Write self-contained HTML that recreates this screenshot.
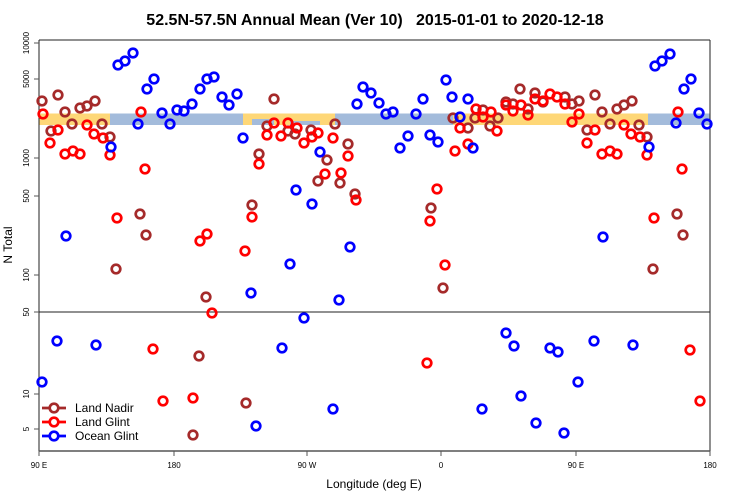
<!DOCTYPE html>
<html><head><meta charset="utf-8"><style>
html,body{margin:0;padding:0;background:#fff}
svg{display:block;font-family:"Liberation Sans",sans-serif}
</style></head><body>
<svg width="750" height="500" viewBox="0 0 750 500" xmlns="http://www.w3.org/2000/svg">
<rect width="750" height="500" fill="#fff"/>
<text x="375" y="25" text-anchor="middle" font-size="16" font-weight="bold" style="white-space:pre">52.5N-57.5N Annual Mean (Ver 10)   2015-01-01 to 2020-12-18</text>
<rect x="39" y="113.5" width="71" height="11.5" fill="#fed777"/>
<rect x="110" y="113.5" width="133" height="11.5" fill="#a3bbdb"/>
<rect x="243" y="113.5" width="92" height="11.5" fill="#fed777"/>
<rect x="252" y="119" width="22" height="6" fill="#a3bbdb"/>
<rect x="290" y="121" width="30" height="4" fill="#a3bbdb"/>
<rect x="335" y="113.5" width="118" height="11.5" fill="#a3bbdb"/>
<rect x="453" y="113.5" width="195" height="11.5" fill="#fed777"/>
<rect x="648" y="113.5" width="62" height="11.5" fill="#a3bbdb"/>
<g stroke="#222" stroke-width="1" fill="none">
<line x1="39" y1="40" x2="710" y2="40"/>
<line x1="39" y1="40" x2="39" y2="451"/>
<line x1="710" y1="40" x2="710" y2="451"/>
<line x1="39" y1="312" x2="710" y2="312"/>
</g>
<line x1="39" y1="451" x2="710" y2="451" stroke="#555" stroke-width="1.5"/>
<g stroke="#555" stroke-width="1">
<line x1="34" y1="43" x2="39" y2="43"/><line x1="34" y1="79" x2="39" y2="79"/>
<line x1="34" y1="158" x2="39" y2="158"/><line x1="34" y1="196" x2="39" y2="196"/>
<line x1="34" y1="275" x2="39" y2="275"/><line x1="34" y1="312" x2="39" y2="312"/>
<line x1="34" y1="394" x2="39" y2="394"/><line x1="34" y1="429" x2="39" y2="429"/>
<line x1="39" y1="451" x2="39" y2="456"/><line x1="174" y1="451" x2="174" y2="456"/>
<line x1="307" y1="451" x2="307" y2="456"/><line x1="441" y1="451" x2="441" y2="456"/>
<line x1="576" y1="451" x2="576" y2="456"/><line x1="710" y1="451" x2="710" y2="456"/>
</g>
<g font-size="8" text-anchor="middle">
<text transform="translate(29,43) rotate(-90)">10000</text>
<text transform="translate(29,79) rotate(-90)">5000</text>
<text transform="translate(29,158) rotate(-90)">1000</text>
<text transform="translate(29,196) rotate(-90)">500</text>
<text transform="translate(29,275) rotate(-90)">100</text>
<text transform="translate(29,312) rotate(-90)">50</text>
<text transform="translate(29,394) rotate(-90)">10</text>
<text transform="translate(29,429) rotate(-90)">5</text>
<text x="39" y="468">90 E</text><text x="174" y="468">180</text>
<text x="307" y="468">90 W</text><text x="441" y="468">0</text>
<text x="576" y="468">90 E</text><text x="710" y="468">180</text>
</g>
<text transform="translate(12,245) rotate(-90)" font-size="12" text-anchor="middle">N Total</text>
<text x="374" y="488" font-size="12" text-anchor="middle">Longitude (deg E)</text>
<g fill="none" stroke-width="2.7" stroke="#a52a2a">
<circle cx="58" cy="95" r="4.3"/><circle cx="42" cy="101" r="4.3"/><circle cx="51" cy="131" r="4.3"/><circle cx="65" cy="112" r="4.3"/><circle cx="72" cy="124" r="4.3"/><circle cx="80" cy="108" r="4.3"/><circle cx="87" cy="106" r="4.3"/><circle cx="95" cy="101" r="4.3"/><circle cx="102" cy="124" r="4.3"/><circle cx="110" cy="137" r="4.3"/><circle cx="140" cy="214" r="4.3"/><circle cx="146" cy="235" r="4.3"/><circle cx="116" cy="269" r="4.3"/><circle cx="206" cy="297" r="4.3"/><circle cx="199" cy="356" r="4.3"/><circle cx="193" cy="435" r="4.3"/><circle cx="246" cy="403" r="4.3"/>
<circle cx="274" cy="99" r="4.3"/><circle cx="267" cy="126" r="4.3"/><circle cx="288" cy="131" r="4.3"/><circle cx="295" cy="134" r="4.3"/><circle cx="311" cy="130" r="4.3"/><circle cx="335" cy="124" r="4.3"/><circle cx="259" cy="154" r="4.3"/><circle cx="327" cy="160" r="4.3"/><circle cx="348" cy="144" r="4.3"/><circle cx="318" cy="181" r="4.3"/><circle cx="340" cy="183" r="4.3"/><circle cx="252" cy="205" r="4.3"/><circle cx="355" cy="194" r="4.3"/><circle cx="431" cy="208" r="4.3"/><circle cx="453" cy="118" r="4.3"/><circle cx="475" cy="118" r="4.3"/><circle cx="468" cy="128" r="4.3"/><circle cx="490" cy="126" r="4.3"/><circle cx="498" cy="118" r="4.3"/><circle cx="483" cy="110" r="4.3"/><circle cx="443" cy="288" r="4.3"/>
<circle cx="506" cy="102" r="4.3"/><circle cx="513" cy="104" r="4.3"/><circle cx="520" cy="89" r="4.3"/><circle cx="528" cy="109" r="4.3"/><circle cx="535" cy="93" r="4.3"/><circle cx="543" cy="102" r="4.3"/><circle cx="565" cy="97" r="4.3"/><circle cx="572" cy="104" r="4.3"/><circle cx="579" cy="101" r="4.3"/><circle cx="595" cy="95" r="4.3"/><circle cx="602" cy="112" r="4.3"/><circle cx="610" cy="124" r="4.3"/><circle cx="617" cy="109" r="4.3"/><circle cx="624" cy="105" r="4.3"/><circle cx="632" cy="101" r="4.3"/><circle cx="639" cy="125" r="4.3"/><circle cx="647" cy="137" r="4.3"/><circle cx="587" cy="130" r="4.3"/><circle cx="677" cy="214" r="4.3"/><circle cx="683" cy="235" r="4.3"/><circle cx="653" cy="269" r="4.3"/>
</g>
<g fill="none" stroke-width="2.7" stroke="#ff0000">
<circle cx="43" cy="114" r="4.3"/><circle cx="50" cy="143" r="4.3"/><circle cx="58" cy="130" r="4.3"/><circle cx="65" cy="154" r="4.3"/><circle cx="73" cy="151" r="4.3"/><circle cx="80" cy="154" r="4.3"/><circle cx="87" cy="125" r="4.3"/><circle cx="94" cy="134" r="4.3"/><circle cx="103" cy="138" r="4.3"/><circle cx="110" cy="155" r="4.3"/><circle cx="141" cy="112" r="4.3"/><circle cx="145" cy="169" r="4.3"/><circle cx="117" cy="218" r="4.3"/><circle cx="200" cy="241" r="4.3"/><circle cx="207" cy="234" r="4.3"/><circle cx="245" cy="251" r="4.3"/><circle cx="212" cy="313" r="4.3"/><circle cx="153" cy="349" r="4.3"/><circle cx="163" cy="401" r="4.3"/><circle cx="193" cy="398" r="4.3"/>
<circle cx="274" cy="123" r="4.3"/><circle cx="267" cy="135" r="4.3"/><circle cx="281" cy="136" r="4.3"/><circle cx="288" cy="123" r="4.3"/><circle cx="297" cy="128" r="4.3"/><circle cx="304" cy="143" r="4.3"/><circle cx="312" cy="137" r="4.3"/><circle cx="318" cy="133" r="4.3"/><circle cx="333" cy="138" r="4.3"/><circle cx="259" cy="164" r="4.3"/><circle cx="348" cy="156" r="4.3"/><circle cx="341" cy="173" r="4.3"/><circle cx="356" cy="200" r="4.3"/><circle cx="252" cy="217" r="4.3"/><circle cx="437" cy="189" r="4.3"/><circle cx="430" cy="221" r="4.3"/><circle cx="455" cy="151" r="4.3"/><circle cx="460" cy="128" r="4.3"/><circle cx="468" cy="144" r="4.3"/><circle cx="476" cy="109" r="4.3"/><circle cx="491" cy="112" r="4.3"/><circle cx="497" cy="131" r="4.3"/><circle cx="483" cy="117" r="4.3"/><circle cx="445" cy="265" r="4.3"/><circle cx="427" cy="363" r="4.3"/>
<circle cx="506" cy="105" r="4.3"/><circle cx="513" cy="111" r="4.3"/><circle cx="521" cy="105" r="4.3"/><circle cx="528" cy="115" r="4.3"/><circle cx="535" cy="99" r="4.3"/><circle cx="543" cy="101" r="4.3"/><circle cx="550" cy="94" r="4.3"/><circle cx="557" cy="97" r="4.3"/><circle cx="565" cy="104" r="4.3"/><circle cx="572" cy="122" r="4.3"/><circle cx="579" cy="114" r="4.3"/><circle cx="595" cy="130" r="4.3"/><circle cx="587" cy="143" r="4.3"/><circle cx="602" cy="154" r="4.3"/><circle cx="610" cy="151" r="4.3"/><circle cx="617" cy="154" r="4.3"/><circle cx="624" cy="125" r="4.3"/><circle cx="631" cy="134" r="4.3"/><circle cx="640" cy="137" r="4.3"/><circle cx="647" cy="155" r="4.3"/><circle cx="678" cy="112" r="4.3"/><circle cx="682" cy="169" r="4.3"/><circle cx="654" cy="218" r="4.3"/><circle cx="690" cy="350" r="4.3"/><circle cx="700" cy="401" r="4.3"/>
</g>
<g fill="none" stroke-width="2.7" stroke="#0000ff">
<circle cx="111" cy="147" r="4.3"/><circle cx="138" cy="124" r="4.3"/><circle cx="147" cy="89" r="4.3"/><circle cx="154" cy="79" r="4.3"/><circle cx="118" cy="65" r="4.3"/><circle cx="125" cy="61" r="4.3"/><circle cx="133" cy="53" r="4.3"/><circle cx="162" cy="113" r="4.3"/><circle cx="170" cy="124" r="4.3"/><circle cx="177" cy="110" r="4.3"/><circle cx="184" cy="111" r="4.3"/><circle cx="192" cy="104" r="4.3"/><circle cx="200" cy="89" r="4.3"/><circle cx="207" cy="79" r="4.3"/><circle cx="214" cy="77" r="4.3"/><circle cx="222" cy="97" r="4.3"/><circle cx="229" cy="105" r="4.3"/><circle cx="237" cy="94" r="4.3"/><circle cx="243" cy="138" r="4.3"/><circle cx="66" cy="236" r="4.3"/><circle cx="42" cy="382" r="4.3"/><circle cx="57" cy="341" r="4.3"/><circle cx="96" cy="345" r="4.3"/><circle cx="256" cy="426" r="4.3"/>
<circle cx="363" cy="87" r="4.3"/><circle cx="371" cy="93" r="4.3"/><circle cx="357" cy="104" r="4.3"/><circle cx="379" cy="103" r="4.3"/><circle cx="386" cy="114" r="4.3"/><circle cx="393" cy="112" r="4.3"/><circle cx="416" cy="114" r="4.3"/><circle cx="423" cy="99" r="4.3"/><circle cx="446" cy="80" r="4.3"/><circle cx="452" cy="97" r="4.3"/><circle cx="468" cy="99" r="4.3"/><circle cx="460" cy="117" r="4.3"/><circle cx="408" cy="136" r="4.3"/><circle cx="400" cy="148" r="4.3"/><circle cx="430" cy="135" r="4.3"/><circle cx="438" cy="142" r="4.3"/><circle cx="473" cy="148" r="4.3"/><circle cx="320" cy="152" r="4.3"/><circle cx="296" cy="190" r="4.3"/><circle cx="312" cy="204" r="4.3"/><circle cx="290" cy="264" r="4.3"/><circle cx="350" cy="247" r="4.3"/><circle cx="251" cy="293" r="4.3"/><circle cx="339" cy="300" r="4.3"/><circle cx="304" cy="318" r="4.3"/><circle cx="282" cy="348" r="4.3"/><circle cx="333" cy="409" r="4.3"/><circle cx="482" cy="409" r="4.3"/>
<circle cx="655" cy="66" r="4.3"/><circle cx="662" cy="61" r="4.3"/><circle cx="670" cy="54" r="4.3"/><circle cx="684" cy="89" r="4.3"/><circle cx="691" cy="79" r="4.3"/><circle cx="699" cy="113" r="4.3"/><circle cx="707" cy="124" r="4.3"/><circle cx="676" cy="123" r="4.3"/><circle cx="649" cy="147" r="4.3"/><circle cx="603" cy="237" r="4.3"/><circle cx="506" cy="333" r="4.3"/><circle cx="514" cy="346" r="4.3"/><circle cx="550" cy="348" r="4.3"/><circle cx="558" cy="352" r="4.3"/><circle cx="594" cy="341" r="4.3"/><circle cx="633" cy="345" r="4.3"/><circle cx="578" cy="382" r="4.3"/><circle cx="521" cy="396" r="4.3"/><circle cx="536" cy="423" r="4.3"/><circle cx="564" cy="433" r="4.3"/>
</g>
<g fill="none" stroke-width="2.7" stroke="#ff0000"><circle cx="325" cy="174" r="4.3"/></g>
<g stroke-width="2.7" fill="none">
<line x1="42" y1="408" x2="66" y2="408" stroke="#a52a2a"/><circle cx="54" cy="408" r="4.3" stroke="#a52a2a" fill="#fff"/>
<line x1="42" y1="422" x2="66" y2="422" stroke="#ff0000"/><circle cx="54" cy="422" r="4.3" stroke="#ff0000" fill="#fff"/>
<line x1="42" y1="436" x2="66" y2="436" stroke="#0000ff"/><circle cx="54" cy="436" r="4.3" stroke="#0000ff" fill="#fff"/>
</g>
<g font-size="12"><text x="75" y="412">Land Nadir</text><text x="75" y="426">Land Glint</text><text x="75" y="440">Ocean Glint</text></g>
</svg>
</body></html>
